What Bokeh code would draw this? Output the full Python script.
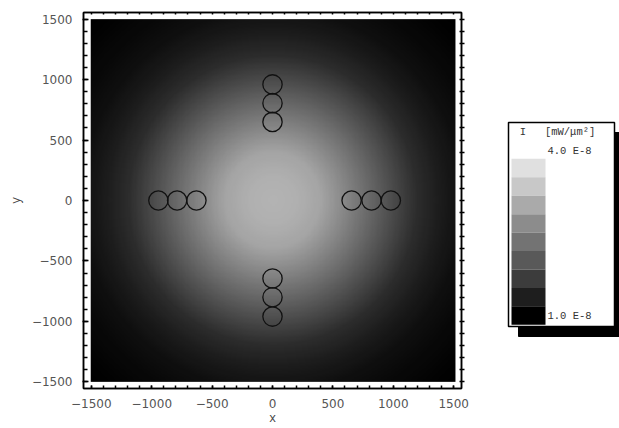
import numpy as np
from bokeh.plotting import figure
from bokeh.models import Range1d, LinearAxis, SingleIntervalTicker, FixedTicker, LinearColorMapper
from bokeh.layouts import row
from bokeh.embed import file_html
from bokeh.resources import INLINE
from bokeh.core.properties import value

# ---------------- data ----------------
# radial intensity profile of the field, in units of 1E-8 mW/um^2
profile_r = [0, 200, 400, 600, 800, 1000, 1200, 1400, 1600, 1800, 2000, 2200]
profile_I = [3.40, 3.36, 3.20, 2.80, 2.40, 2.00, 1.60, 1.37, 1.20, 1.11, 1.04, 1.00]
field_x = [-1505, 1515]
field_y = [-1500, 1500]

# circles (detector positions)
circ_x = [-945, -790, -630, 655, 820, 980, 0, 0, 0, 0, 0, 0]
circ_y = [0, 0, 0, 0, 0, 0, 960, 805, 650, -645, -800, -960]
circ_r = 80

# tick positions
minor_ticks = list(range(-1500, 1501, 100))

# colour bar bands, top (light) to bottom (black), grey level
band_gray = [224, 200, 170, 140, 115, 89, 60, 30, 0]
legend_title = "I\u00a0\u00a0\u00a0[mW/\u03bcm\u00b2]"
legend_max = "4.0 E-8"
legend_min = "1.0 E-8"
I_low, I_high = 1.0e-8, 4.0e-8

# ---------------- main plot ----------------
palette = ["#%02x%02x%02x" % (g, g, g) for g in np.linspace(0, 224, 256).astype(int)]
mapper = LinearColorMapper(palette=palette, low=I_low, high=I_high)

p = figure(width=470, height=428,
           x_range=Range1d(-1565, 1565), y_range=Range1d(-1555, 1555),
           output_backend="svg", toolbar_location=None,
           min_border_left=83, min_border_right=9, min_border_top=12, min_border_bottom=40,
           x_axis_label="x", y_axis_label="y")
p.grid.visible = False
p.outline_line_color = "black"
p.outline_line_width = 1.5
p.background_fill_color = "white"
p.border_fill_color = "white"

xs = np.linspace(field_x[0], field_x[1], 302)
ys = np.linspace(field_y[0], field_y[1], 300)
X, Y = np.meshgrid(xs, ys)
img = np.interp(np.hypot(X, Y), profile_r, profile_I) * 1e-8
p.image(image=[img], x=field_x[0], y=field_y[0],
        dw=field_x[1] - field_x[0], dh=field_y[1] - field_y[0], color_mapper=mapper)

p.circle(x=circ_x, y=circ_y, radius=circ_r, fill_color=None,
         line_color="#111111", line_width=1.3)


def style_axis(ax, tin, tout, min_in, min_out):
    ax.axis_line_color = "black"
    ax.axis_line_width = 1.5
    ax.major_tick_line_width = 1.5
    ax.minor_tick_line_width = 1.5
    ax.major_tick_line_color = "black"
    ax.minor_tick_line_color = "black"
    ax.major_tick_in = tin
    ax.major_tick_out = tout
    ax.minor_tick_in = min_in
    ax.minor_tick_out = min_out
    ax.major_label_text_font = "DejaVu Sans"
    ax.major_label_text_font_size = "12px"
    ax.major_label_text_color = "#555555"
    ax.axis_label_text_font = "Liberation Mono"
    ax.axis_label_text_font_size = "12px"
    ax.axis_label_text_font_style = "normal"
    ax.axis_label_text_color = "#444444"


xa = p.xaxis[0]
xa.ticker = SingleIntervalTicker(interval=500, num_minor_ticks=5)
style_axis(xa, 3, 0, 3, 0)
xa.major_label_standoff = 10
xa.axis_label_standoff = 1

ya = p.yaxis[0]
ya.ticker = SingleIntervalTicker(interval=500, num_minor_ticks=5)
style_axis(ya, 5, 1, 4, 0)
ya.major_label_standoff = 10
ya.axis_label_standoff = 5

top = LinearAxis(ticker=FixedTicker(ticks=[], minor_ticks=minor_ticks))
style_axis(top, 2, 0, 2, 0)
p.add_layout(top, "above")

right = LinearAxis(ticker=FixedTicker(ticks=[], minor_ticks=minor_ticks))
style_axis(right, 2, 3, 2, 3)
p.add_layout(right, "right")

# ---------------- colour bar legend ----------------
# the row aligns this figure's frame with the main frame (page y 12..388),
# so the y range is set to page pixels over that span
q = figure(width=149, height=428, x_range=Range1d(0, 149), y_range=Range1d(388, 12),
           output_backend="svg", toolbar_location=None, min_border=0,
           x_axis_location=None, y_axis_location=None)
q.grid.visible = False
q.outline_line_color = None
q.background_fill_color = "white"
q.border_fill_color = "white"

bx0, bx1, by0, by1 = 38, 144, 122, 326
q.quad(left=bx0 + 10, right=bx1 + 10, top=by0 + 10, bottom=by1 + 10,
       fill_color="black", line_color="black")
q.quad(left=bx0, right=bx1, top=by0, bottom=by1,
       fill_color="white", line_color="black", line_width=1.5)

n = len(band_gray)
t0, t1 = 158.3, 324.3
h = (t1 - t0) / n
tops = [t0 + i * h for i in range(n)]
bots = [t0 + (i + 1) * h for i in range(n)]
cols = ["#%02x%02x%02x" % (g, g, g) for g in band_gray]
q.quad(left=41, right=75, top=tops, bottom=bots, fill_color=cols, line_color=None)

fnt = value("Liberation Mono")
q.text(x=[87], y=[131], text=[legend_title], text_align="center", text_baseline="middle",
       text_font=fnt, text_font_size="10.5px", text_color="#333333")
q.text(x=[77], y=[150], text=[legend_max], text_align="left", text_baseline="middle",
       text_font=fnt, text_font_size="10.5px", text_color="#333333")
q.text(x=[77], y=[315], text=[legend_min], text_align="left", text_baseline="middle",
       text_font=fnt, text_font_size="10.5px", text_color="#333333")

layout = row(p, q)
open("out.html", "w").write(file_html(layout, INLINE))
